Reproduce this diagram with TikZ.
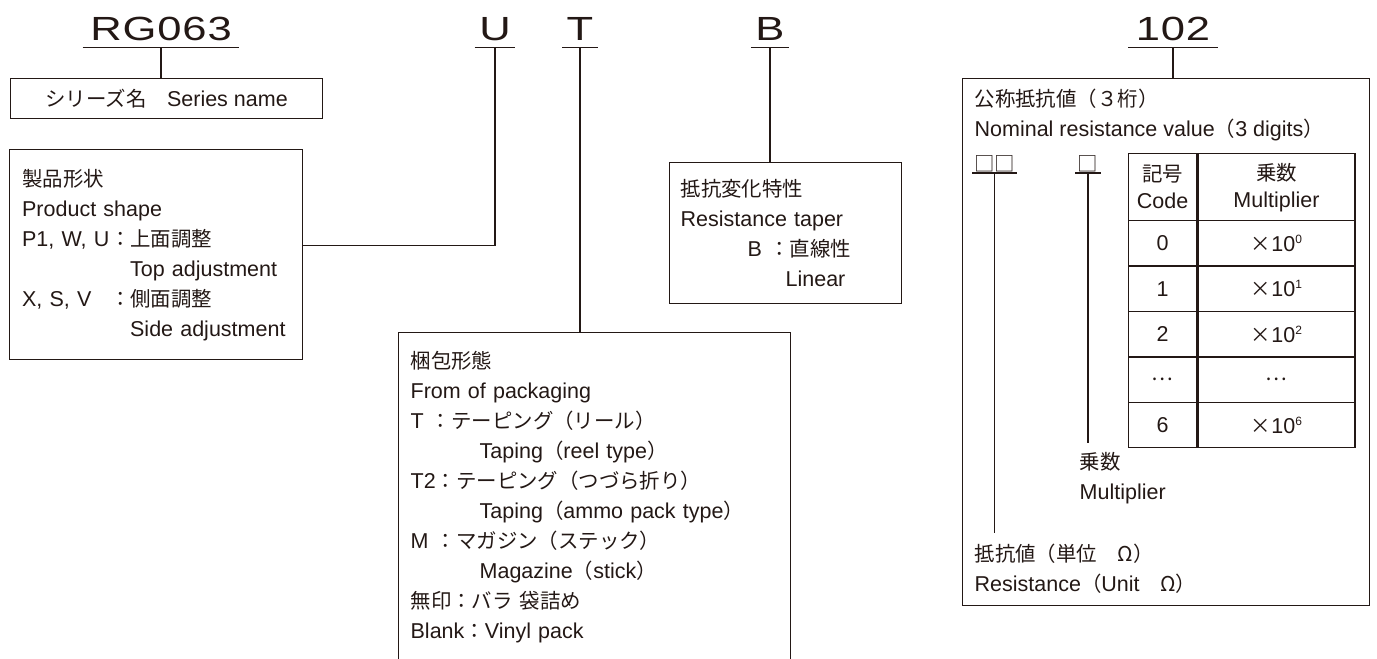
\documentclass[tikz,border=0pt]{standalone}
\usepackage{fontspec}
\setmainfont{Liberation Sans}
\newfontfamily\jpfont[Scale=0.95]{Noto Sans CJK JP}
\newfontfamily\codefont[LetterSpace=2]{Liberation Sans}
\usepackage{graphicx}
\usepackage{tikz}
\usetikzlibrary{positioning,calc}
\definecolor{inkBlack}{RGB}{35,24,21}
\newcommand{\jp}[1]{{\jpfont #1}}
\newcommand{\partno}[1]{\scalebox{1.3}[1]{\codefont\fontsize{33.5}{36}\selectfont #1}}
\newcommand{\tenpow}[1]{\jp{×}10\raisebox{8pt}{\fontsize{12}{12}\selectfont #1}}

\begin{document}
\begin{tikzpicture}[x=1pt, y=-1pt, line width=1.3pt, inkBlack,
  every node/.style={font=\fontsize{21.5}{30}\selectfont, text=inkBlack},
  partcode/.style={anchor=base, inner xsep=7pt, inner ysep=7pt, text depth=0pt},
  infobox/.style={draw, anchor=north west, align=left, inner xsep=12pt, inner ysep=0pt},
  tabcell/.style={draw, anchor=north west, align=center, inner sep=0pt, minimum height=45.4pt},
  uline/.style={line width=1.5pt}]
  \useasboundingbox (0,0) rectangle (1377,659);
  % Part number
  \node[partcode] (rg) at (161,40) {\partno{RG063}};
  \node[partcode, inner xsep=4pt] (u) at (495,40) {\partno{U}};
  \node[partcode, inner xsep=4pt] (t) at (580,40) {\partno{T}};
  \node[partcode, inner xsep=4pt] (b) at (770,40) {\partno{B}};
  \node[partcode] (val) at (1173,40) {\partno{102}};
  \foreach \p in {rg,u,t,b,val}
    \draw[uline] (\p.south west) -- (\p.south east);
  % Boxes
  \node[infobox, align=center, inner xsep=0pt, minimum width=312pt, minimum height=40pt]
    (series) at (10,78) {\jp{シリーズ名　}Series name};
  \node[infobox, text width=268pt, inner xsep=12.5pt, minimum height=210pt]
    (shape) at (9,149) {\jp{製品形状}\\
      Product shape\\
      \makebox[88pt][l]{P1, W, U}\jp{：上面調整}\\
      \hspace*{108pt}Top adjustment\\
      \makebox[88pt][l]{X, S, V}\jp{：側面調整}\\
      \hspace*{108pt}Side adjustment};
  \node[infobox, text width=368pt, minimum height=329pt]
    (pack) at (398,332) {\jp{梱包形態}\\
      From of packaging\\
      T\ \jp{：テーピング（リール）}\\
      \hspace*{69pt}Taping\jp{（}reel type\jp{）}\\
      T2\jp{：テーピング（つづら折り）}\\
      \hspace*{69pt}Taping\jp{（}ammo pack type\jp{）}\\
      M\ \jp{：マガジン（ステック）}\\
      \hspace*{69pt}Magazine\jp{（}stick\jp{）}\\
      \jp{無印：バラ 袋詰め}\\
      Blank\jp{：}Vinyl pack};
  \node[infobox, text width=210pt, inner xsep=11pt, minimum height=141pt]
    (taper) at (669,162) {\jp{抵抗変化特性}\\
      Resistance taper\\
      \hspace*{67pt}B\ \jp{：直線性}\\
      \hspace*{105pt}Linear};
  \node[draw, anchor=north west, minimum width=407pt, minimum height=527pt, inner sep=0pt]
    (valbox) at (962,78) {};
  % Nominal resistance value
  \node[anchor=north west, align=left, inner sep=0pt] (nomtitle) at (974,88)
    {\jp{公称抵抗値（３桁）}\\Nominal resistance value\jp{（}3 digits\jp{）}};
  \node[anchor=south, inner xsep=1pt, inner ysep=1pt, text depth=0pt] (hi) at (994.5,173) {\jp{□□}};
  \node[anchor=south, inner xsep=2pt, inner ysep=1pt, text depth=0pt] (mul) at (1088,173) {\jp{□}};
  \draw[uline] (hi.south west) -- (hi.south east);
  \draw[uline] (mul.south west) -- (mul.south east);
  \node[anchor=north west, align=left, inner sep=0pt] (mullbl) at (1079,452) {\jp{乗数}\\Multiplier};
  \node[anchor=north west, align=left, inner sep=0pt] (reslbl) at (974,543)
    {\jp{抵抗値（単位　Ω）}\\Resistance\jp{（}Unit\jp{　Ω）}};
  % Table
  \node[tabcell, minimum width=68pt, minimum height=67pt, font=\fontsize{21.5}{27}\selectfont]
    (hcode) at (1128,153) {\jp{記号}\\Code};
  \node[tabcell, minimum width=157pt, minimum height=67pt, font=\fontsize{21.5}{27}\selectfont]
    (hmult) at (hcode.north east) {\jp{乗数}\\Multiplier};
  \foreach \c/\m [count=\i from 0] in {0/\tenpow{0}, 1/\tenpow{1}, 2/\tenpow{2}, \jp{…}/\jp{…}, 6/\tenpow{6}}{
    \node[tabcell, minimum width=68pt] (code\i) at (1128,{220+\i*45.4}) {\c};
    \node[tabcell, minimum width=157pt] (mult\i) at (code\i.north east) {\m};
  }
  % Leaders
  \draw (rg.south) -- (rg.south |- series.north);
  \draw (u.south) |- ([yshift=9pt]shape.east);
  \draw (t.south) -- (t.south |- pack.north);
  \draw (b.south) -- (b.south |- taper.north);
  \draw (val.south) -- (val.south |- valbox.north);
  \draw (hi.south) -- ([yshift=10pt]hi.south |- reslbl.north);
  \draw (mul.south) -- ([yshift=9pt]mul.south |- mullbl.north);
\end{tikzpicture}
\end{document}
